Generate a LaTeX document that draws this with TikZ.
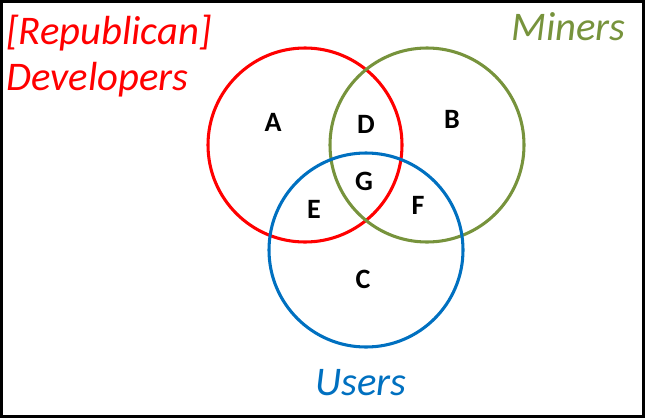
\documentclass[tikz,border=0pt]{standalone}
\usepackage{fontspec}
\setmainfont{Carlito}
\usetikzlibrary{positioning}
\definecolor{devred}{HTML}{FF0000}
\definecolor{mingreen}{HTML}{77933C}
\definecolor{usrblue}{HTML}{0070C0}

\begin{document}
\begin{tikzpicture}[x=0.75pt, y=-0.75pt,
  ring/.style={draw, circle, line width=2.3pt, minimum size=194*0.75pt, inner sep=0pt},
  region/.style={font=\fontsize{21}{24}\selectfont\bfseries},
  group/.style={font=\fontsize{30.5}{36}\selectfont\itshape, inner sep=0pt}]
  \useasboundingbox (0,0) rectangle (645,418);
  \draw[line width=2.3pt] (1.5,1.5) rectangle (643.5,416.5);
  % the three sets
  \node[ring, devred] (dev) at (305,145) {};
  \node[ring, mingreen] (min) at (427,145) {};
  \node[ring, usrblue] (usr) at (366,250) {};
  % regions
  \node[region] (ra) at (273,122) {A};
  \node[region] (rb) at (452,119) {B};
  \node[region] (rc) at (363,279) {C};
  \node[region] (rd) at (366,124) {D};
  \node[region] (re) at (314,209) {E};
  \node[region] (rf) at (418,205) {F};
  \node[region] (rg) at (364,181) {G};
  % set names
  \node[group, devred, anchor=west] (lrep) at (6,33) {[Republican]};
  \node[group, devred, anchor=west] (ldev) at (6,80) {Developers};
  \node[group, mingreen, anchor=east] (lmin) at (626,27) {Miners};
  \node[group, usrblue] (lusr) at (361,383) {Users};
\end{tikzpicture}
\end{document}
